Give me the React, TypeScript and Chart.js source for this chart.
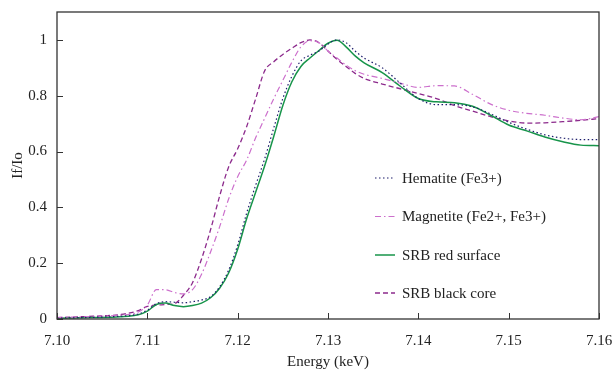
import React, { useEffect, useRef } from "react";
import { Chart, registerables } from "chart.js";

Chart.register(...registerables);

const energies = [
  7.100, 7.104, 7.107, 7.109, 7.110, 7.111, 7.112, 7.113, 7.114, 7.115, 7.116, 7.117,
  7.118, 7.119, 7.120, 7.121, 7.122, 7.123, 7.124, 7.125, 7.126, 7.127, 7.128, 7.129,
  7.130, 7.131, 7.132, 7.133, 7.134, 7.136, 7.138, 7.140, 7.142, 7.144, 7.146, 7.148,
  7.150, 7.152, 7.154, 7.156, 7.158, 7.160,
];

const hematite = [
  0.003, 0.006, 0.010, 0.018, 0.032, 0.055, 0.062, 0.060, 0.058, 0.062, 0.068, 0.080,
  0.115, 0.175, 0.265, 0.380, 0.480, 0.575, 0.685, 0.790, 0.870, 0.925, 0.945, 0.960,
  0.985, 1.000, 0.990, 0.960, 0.935, 0.900, 0.845, 0.790, 0.768, 0.768, 0.760, 0.735,
  0.705, 0.680, 0.660, 0.648, 0.643, 0.643,
];

const magnetite = [
  0.005, 0.009, 0.014, 0.025, 0.050, 0.105, 0.105, 0.095, 0.090, 0.105, 0.160, 0.240,
  0.330, 0.430, 0.510, 0.570, 0.650, 0.720, 0.790, 0.855, 0.920, 0.975, 0.997, 0.990,
  0.960, 0.935, 0.910, 0.890, 0.877, 0.862, 0.845, 0.830, 0.836, 0.835, 0.805, 0.770,
  0.748, 0.737, 0.730, 0.720, 0.714, 0.725,
];

const redSurface = [
  0.003, 0.005, 0.008, 0.015, 0.028, 0.052, 0.057, 0.048, 0.044, 0.048, 0.057, 0.076,
  0.110, 0.165, 0.250, 0.360, 0.455, 0.550, 0.655, 0.765, 0.850, 0.905, 0.935, 0.962,
  0.988, 0.999, 0.975, 0.943, 0.918, 0.883, 0.834, 0.790, 0.778, 0.775, 0.762, 0.730,
  0.695, 0.674, 0.652, 0.635, 0.623, 0.621,
];

const blackCore = [
  0.005, 0.010, 0.016, 0.030, 0.045, 0.050, 0.052, 0.055, 0.085, 0.130, 0.215, 0.320,
  0.440, 0.545, 0.610, 0.690, 0.790, 0.890, 0.922, 0.948, 0.970, 0.990, 1.000, 0.990,
  0.960, 0.930, 0.905, 0.880, 0.862, 0.842, 0.825, 0.808, 0.790, 0.765, 0.745, 0.725,
  0.710, 0.702, 0.703, 0.707, 0.712, 0.718,
];

const seriesLabels = [
  "Hematite (Fe3+)",
  "Magnetite (Fe2+, Fe3+)",
  "SRB red surface",
  "SRB black core",
];

const xTicks = [7.10, 7.11, 7.12, 7.13, 7.14, 7.15, 7.16];
const yTicks = [0, 0.2, 0.4, 0.6, 0.8, 1];

const FONT = "'Liberation Serif', 'Times New Roman', serif";
const TEXT = "#222222";

const frameAndLegend = {
  id: "frameAndLegend",
  afterDraw(chart: any) {
    const { ctx, chartArea } = chart;
    const { left, right, top, bottom } = chartArea;
    ctx.save();
    ctx.strokeStyle = "#333333";
    ctx.lineWidth = 1;
    ctx.setLineDash([]);
    const xs = chart.scales.x;
    const ys = chart.scales.y;
    xTicks.forEach((v) => {
      const px = Math.round(xs.getPixelForValue(v)) + 0.5;
      ctx.beginPath();
      ctx.moveTo(px, bottom);
      ctx.lineTo(px, bottom - 6);
      ctx.stroke();
    });
    yTicks.forEach((v) => {
      const py = Math.round(ys.getPixelForValue(v)) + 0.5;
      ctx.beginPath();
      ctx.moveTo(left, py);
      ctx.lineTo(left + 6, py);
      ctx.stroke();
    });
    ctx.lineWidth = 1.3;
    ctx.strokeStyle = "#333333";
    ctx.strokeRect(left, top, right - left, bottom - top);

    const lx0 = 375;
    const lx1 = 395;
    const tx = 402;
    const ly = [178, 216.5, 255, 293];
    ctx.font = "15px " + FONT;
    ctx.textBaseline = "middle";
    ctx.textAlign = "left";
    chart.data.datasets.forEach((ds: any, i: number) => {
      ctx.strokeStyle = ds.borderColor;
      ctx.lineWidth = ds.borderWidth;
      ctx.setLineDash(ds.borderDash || []);
      ctx.beginPath();
      ctx.moveTo(lx0, ly[i]);
      ctx.lineTo(lx1, ly[i]);
      ctx.stroke();
      ctx.setLineDash([]);
      ctx.fillStyle = TEXT;
      ctx.fillText(ds.label, tx, ly[i] + 1);
    });
    ctx.restore();
  },
};

export default function App() {
  const ref = useRef<HTMLCanvasElement | null>(null);

  useEffect(() => {
    document.body.style.margin = "0";
    const canvas = ref.current;
    if (!canvas) return;
    const mk = (arr: number[]) => energies.map((x, i) => ({ x, y: arr[i] }));
    const chart = new Chart(canvas, {
      type: "line",
      data: {
        datasets: [
          {
            label: seriesLabels[0],
            data: mk(hematite),
            borderColor: "#1d1d6b",
            borderWidth: 1.2,
            borderDash: [1.5, 2.5],
          },
          {
            label: seriesLabels[1],
            data: mk(magnetite),
            borderColor: "#cc6fcc",
            borderWidth: 1.2,
            borderDash: [6, 3, 1.5, 3],
          },
          {
            label: seriesLabels[2],
            data: mk(redSurface),
            borderColor: "#17944a",
            borderWidth: 1.5,
            borderDash: [],
          },
          {
            label: seriesLabels[3],
            data: mk(blackCore),
            borderColor: "#8c2a8c",
            borderWidth: 1.3,
            borderDash: [5, 3],
          },
        ] as any,
      },
      options: {
        animation: false,
        responsive: false,
        maintainAspectRatio: false,
        devicePixelRatio: 1,
        layout: { padding: { top: 12, right: 13, left: 0, bottom: 0 } },
        elements: {
          point: { radius: 0 },
          line: { cubicInterpolationMode: "monotone", fill: false },
        },
        plugins: {
          legend: { display: false },
          tooltip: { enabled: false },
        },
        scales: {
          x: {
            type: "linear",
            min: 7.1,
            max: 7.16,
            afterFit: (s: any) => {
              s.height = 55;
              s.paddingLeft = 0;
              s.paddingRight = 0;
              s.paddingTop = 0;
              s.paddingBottom = 0;
            },
            afterBuildTicks: (s: any) => {
              s.ticks = xTicks.map((v) => ({ value: v }));
            },
            grid: { display: false, drawTicks: false },
            border: { display: false },
            ticks: {
              padding: 13,
              maxRotation: 0,
              autoSkip: false,
              color: TEXT,
              font: { family: FONT, size: 15 },
              callback: (v: any) => Number(v).toFixed(2),
            },
            title: {
              display: true,
              text: "Energy (keV)",
              color: TEXT,
              font: { family: FONT, size: 15 },
              padding: { top: 0, bottom: 3 },
            },
          },
          y: {
            type: "linear",
            min: 0,
            max: 1.1,
            afterFit: (s: any) => {
              s.width = 57;
              s.paddingLeft = 0;
              s.paddingRight = 0;
              s.paddingTop = 0;
              s.paddingBottom = 0;
            },
            afterBuildTicks: (s: any) => {
              s.ticks = yTicks.map((v) => ({ value: v }));
            },
            grid: { display: false, drawTicks: false },
            border: { display: false },
            ticks: {
              padding: 10,
              autoSkip: false,
              color: TEXT,
              font: { family: FONT, size: 15 },
              callback: (v: any) => String(Number(Number(v).toFixed(1))),
            },
            title: {
              display: true,
              text: "If/Io",
              color: TEXT,
              font: { family: FONT, size: 15 },
              padding: { top: 9, bottom: 0 },
            },
          },
        },
      },
      plugins: [frameAndLegend],
    });
    return () => chart.destroy();
  }, []);

  return (
    <div style={{ position: "relative", width: 612, height: 374 }}>
      <canvas ref={ref} width={612} height={374} style={{ display: "block" }} />
    </div>
  );
}
